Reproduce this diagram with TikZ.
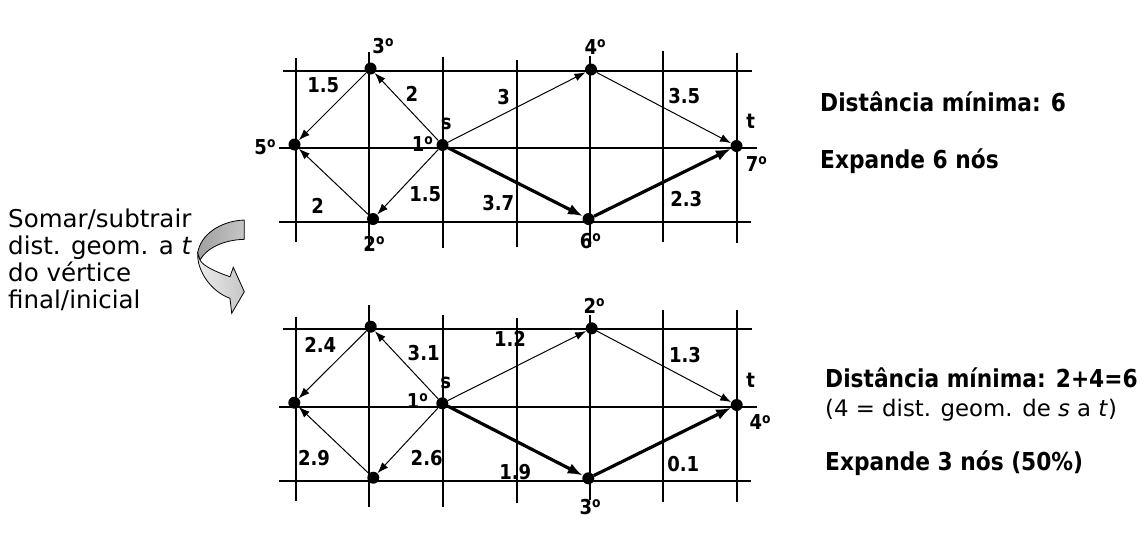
\documentclass[tikz,border=0pt]{standalone}
\usepackage{fontspec}
\setmainfont{DejaVu Sans}
\newfontfamily\boldfnt{DejaVu Sans}[FakeStretch=0.88]
\usetikzlibrary{arrows.meta}
\newcommand{\ordem}[1]{#1\raisebox{0.32em}{\fontsize{14}{14}\selectfont o}}
\tikzset{
  dot/.style={circle,fill=black,inner sep=0pt,minimum size=12pt},
  lab/.style={font=\boldfnt\bfseries\fontsize{20.5}{24}\selectfont,inner sep=0pt},
  note/.style={font=\boldfnt\bfseries\fontsize{24.7}{28}\selectfont,inner sep=0pt,anchor=base west},
  side/.style={font=\fontsize{24.5}{27}\selectfont,inner sep=0pt,anchor=base west},
  arr/.style={-{Latex[length=11pt,width=8pt]},line width=1pt},
  patharr/.style={-{Latex[length=15pt,width=11pt]},line width=3.2pt},
  gridln/.style={line width=2pt}
}
\begin{document}
\begin{tikzpicture}[x=1pt,y=-1pt]
\useasboundingbox (0,0) rectangle (1147,558);

% grade de cima
\foreach \y/\a/\b in {70.7/283/751.7, 148.3/279/757, 221.7/279/751}
  \draw[gridln] (\a,\y) -- (\b,\y);
\foreach \x/\a/\b in {295.7/58/242, 369.3/52/250, 443.3/57/248, 516.7/60/246.7, 590/56/247, 662.7/50.7/241.7, 736.7/52.7/243}
  \draw[gridln] (\x,\a) -- (\x,\b);

% grade de baixo
\foreach \y/\a/\b in {329/283/751.7, 406.7/279/757, 481/279/751}
  \draw[gridln] (\a,\y) -- (\b,\y);
\foreach \x/\a/\b in {295.7/316.7/500.7, 369.3/305/507, 443.3/315/506.7, 516.7/318/503, 590/315/500, 662.7/310/501.7, 736.7/310/501.7}
  \draw[gridln] (\x,\a) -- (\x,\b);

% vertices de cima
\node[dot] (A3) at (370.5,68.5) {};
\node[dot] (A5) at (294.5,144.5) {};
\node[dot] (As) at (442.5,145) {};
\node[dot] (A2) at (373,219) {};
\node[dot] (A4) at (591,69.5) {};
\node[dot] (At) at (736.5,146) {};
\node[dot] (A6) at (588.5,219) {};

\draw[arr] (As) -- (A3);
\draw[arr] (A3) -- (A5);
\draw[arr] (As) -- (A2);
\draw[arr] (A2) -- (A5);
\draw[arr] (As) -- (A4);
\draw[arr] (A4) -- (At);
\draw[patharr] (As) -- (A6);
\draw[patharr] (A6) -- (At);

\node[lab] (wa1) at (412,94) {2};
\node[lab] (wa2) at (323.3,85.5) {1.5};
\node[lab] (wa3) at (425.3,193.7) {1.5};
\node[lab] (wa4) at (317.7,205.7) {2};
\node[lab] (wa5) at (503.7,97.3) {3};
\node[lab] (wa6) at (684.3,96) {3.5};
\node[lab] (wa7) at (498.3,203.3) {3.7};
\node[lab] (wa8) at (686.3,199.3) {2.3};

\node[lab] (oa3) at (383,45.7) {\ordem{3}};
\node[lab] (oa5) at (265,146.7) {\ordem{5}};
\node[lab] (oa1) at (422.3,144) {\ordem{1}};
\node[lab] (la_s) at (446.3,124) {s};
\node[lab] (oa2) at (374,243.7) {\ordem{2}};
\node[lab] (oa4) at (595,47) {\ordem{4}};
\node[lab] (la_t) at (750.7,121.7) {t};
\node[lab] (oa7) at (756.3,163.7) {\ordem{7}};
\node[lab] (oa6) at (590.3,240.7) {\ordem{6}};

% vertices de baixo
\node[dot] (B3) at (370.7,326.7) {};
\node[dot] (B5) at (294.3,402.7) {};
\node[dot] (Bs) at (442.3,403.3) {};
\node[dot] (B2) at (373.3,477.7) {};
\node[dot] (B4) at (591.7,328.3) {};
\node[dot] (Bt) at (736.7,405) {};
\node[dot] (B6) at (588.3,478.3) {};

\draw[arr] (Bs) -- (B3);
\draw[arr] (B3) -- (B5);
\draw[arr] (Bs) -- (B2);
\draw[arr] (B2) -- (B5);
\draw[arr] (Bs) -- (B4);
\draw[arr] (B4) -- (Bt);
\draw[patharr] (Bs) -- (B6);
\draw[patharr] (B6) -- (Bt);

\node[lab] (wb1) at (423.7,352.7) {3.1};
\node[lab] (wb2) at (320.3,344.7) {2.4};
\node[lab] (wb3) at (426.7,458.3) {2.6};
\node[lab] (wb4) at (314,458.3) {2.9};
\node[lab] (wb5) at (510,339.3) {1.2};
\node[lab] (wb6) at (685,355) {1.3};
\node[lab] (wb7) at (515.3,471.7) {1.9};
\node[lab] (wb8) at (683.3,463.7) {0.1};

\node[lab] (ob1) at (417.3,401) {\ordem{1}};
\node[lab] (lb_s) at (445.7,383.3) {s};
\node[lab] (ob2) at (594,305.7) {\ordem{2}};
\node[lab] (lb_t) at (750.7,380) {t};
\node[lab] (ob4) at (760,422.3) {\ordem{4}};
\node[lab] (ob3) at (590,506.7) {\ordem{3}};

% seta curva
\draw[line width=0.8pt,left color=gray!75,right color=gray!45] (244.3,220) .. controls (220,221) and (200,235) .. (197.7,253.3)
  -- (200,260) .. controls (206,249) and (222,240) .. (244.3,239.3) -- cycle;
\draw[line width=0.8pt,left color=gray!15,right color=gray!45] (197.7,253.3) .. controls (197,272) and (212,292) .. (230,298.3)
  -- (231.7,313.3) -- (244.3,291.7) -- (233.3,267.3) -- (230,276.7)
  .. controls (216,272) and (203,266) .. (200,260) -- cycle;

% textos
\node[side] (tx1) at (8,227) {Somar/subtrair};
\node[side] (tx2) at (8,254.5) {dist. geom. a \textit{t}};
\node[side] (tx3) at (8,281.5) {do vértice};
\node[side] (tx4) at (8,308.5) {final/inicial};

\node[note] (ra1) at (820,111.7) {Distância mínima: 6};
\node[note] (ra2) at (820,168.3) {Expande 6 nós};
\node[note] (rb1) at (825,387.3) {Distância mínima: 2+4=6};
\node[side,font=\fontsize{22.8}{26}\selectfont] (rb2) at (825,416.7) {(4 = dist. geom. de \textit{s} a \textit{t})};
\node[note] (rb3) at (825,470) {Expande 3 nós (50\%)};
\end{tikzpicture}
\end{document}
